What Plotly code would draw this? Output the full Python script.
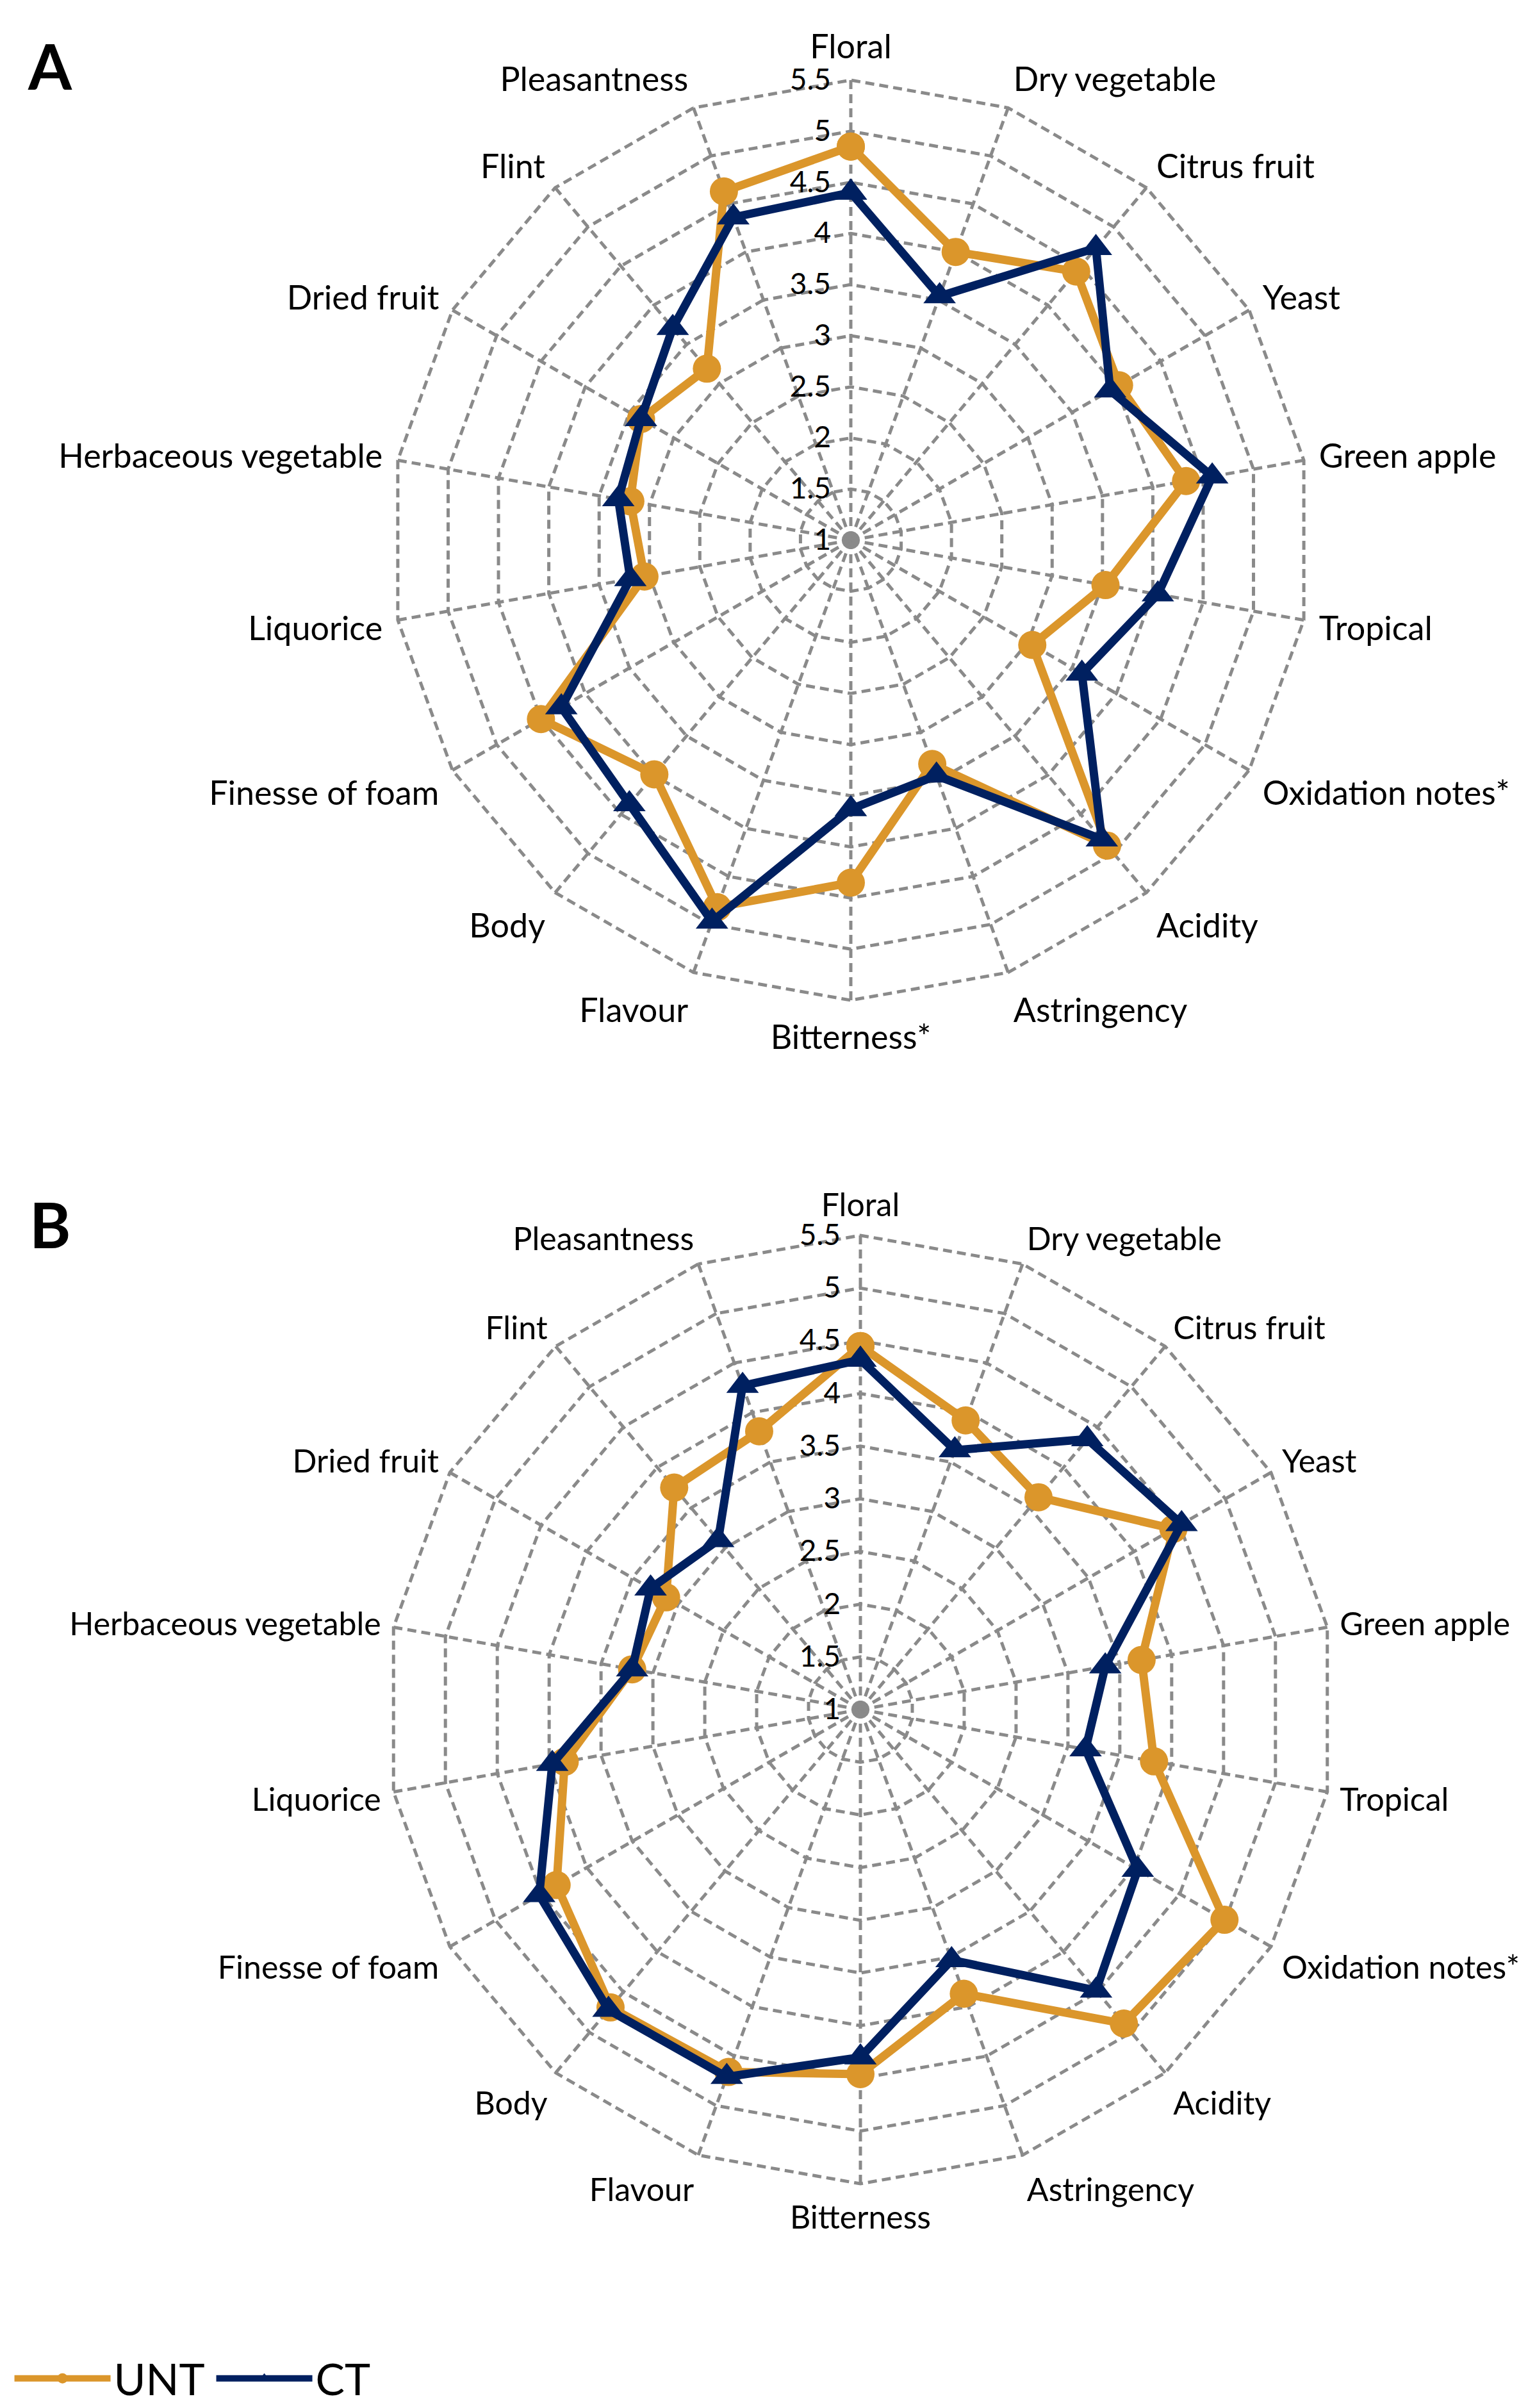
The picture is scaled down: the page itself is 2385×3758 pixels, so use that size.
import plotly.graph_objects as go

categories = ["Floral", "Dry vegetable", "Citrus fruit", "Yeast", "Green apple", "Tropical",
              "Oxidation notes*", "Acidity", "Astringency", "Bitterness*", "Flavour", "Body",
              "Finesse of foam", "Liquorice", "Herbaceous vegetable", "Dried fruit", "Flint",
              "Pleasantness"]
categories_b = ["Floral", "Dry vegetable", "Citrus fruit", "Yeast", "Green apple", "Tropical",
                "Oxidation notes*", "Acidity", "Astringency", "Bitterness", "Flavour", "Body",
                "Finesse of foam", "Liquorice", "Herbaceous vegetable", "Dried fruit", "Flint",
                "Pleasantness"]

unt_a = [4.85, 4.0, 4.43, 4.03, 4.33, 3.53, 3.05, 4.9, 3.33, 4.35, 4.82, 3.99, 4.5, 3.05, 3.19, 3.37, 3.19, 4.63]
ct_a = [4.4, 3.54, 4.73, 3.93, 4.59, 4.05, 3.61, 4.82, 3.45, 3.63, 4.97, 4.37, 4.27, 3.19, 3.31, 3.37, 3.71, 4.36]

unt_b = [4.45, 3.92, 3.63, 4.43, 3.71, 3.83, 4.99, 4.89, 3.87, 4.46, 4.66, 4.69, 4.33, 3.85, 3.2, 3.13, 3.75, 3.81]
ct_b = [4.32, 3.62, 4.35, 4.52, 3.36, 3.17, 4.04, 4.48, 3.53, 4.3, 4.71, 4.72, 4.52, 3.97, 3.2, 3.3, 3.1, 4.27]

radial_ticks = [1, 1.5, 2, 2.5, 3, 3.5, 4, 4.5, 5, 5.5]
radial_ticktext = ["1", "1.5", "2", "2.5", "3", "3.5", "4", "4.5", "5", "5.5"]
series_names = ["UNT", "CT"]
panel_letters = ["A", "B"]

ORANGE = "#DB962B"
NAVY = "#002060"
GRID = "#8a8a8a"
FONT = "Lato"

W, H = 2385, 3758
R_EXTRA = 0.02  # small headroom so the outermost (5.5) ring is drawn

fig = go.Figure()


def close(vals):
    return list(vals) + [vals[0]]


def add_panel(cats, unt, ct, sub, show_legend):
    fig.add_trace(go.Scatterpolar(
        r=close(unt), theta=close(cats), subplot=sub, name=series_names[0],
        mode="lines+markers", showlegend=show_legend,
        line=dict(color=ORANGE, width=13),
        marker=dict(symbol="circle", size=44, color=ORANGE),
    ))
    fig.add_trace(go.Scatterpolar(
        r=close(ct), theta=close(cats), subplot=sub, name=series_names[1],
        mode="lines+markers", showlegend=show_legend,
        line=dict(color=NAVY, width=13),
        marker=dict(symbol="triangle-up", size=44, color=NAVY),
    ))
    # center dot at radial origin
    fig.add_trace(go.Scatterpolar(
        r=[radial_ticks[0]], theta=[cats[0]], subplot=sub, mode="markers",
        showlegend=False, hoverinfo="skip",
        marker=dict(size=32, color=GRID),
    ))


add_panel(categories, unt_a, ct_a, "polar", True)
add_panel(categories_b, unt_b, ct_b, "polar2", False)


def polar_layout(cx, cy, R55, cats, ang_ticklen, ang_font):
    span = radial_ticks[-1] - radial_ticks[0]
    R = R55 * (span + R_EXTRA) / span
    dom_x = [(cx - R) / W, (cx + R) / W]
    dom_y = [1 - (cy + R) / H, 1 - (cy - R) / H]
    return dict(
        domain=dict(x=dom_x, y=dom_y),
        bgcolor="white",
        gridshape="linear",
        radialaxis=dict(
            range=[radial_ticks[0], radial_ticks[-1] + R_EXTRA],
            tickvals=radial_ticks,
            ticktext=[t + "\u00a0\u00a0" for t in radial_ticktext],
            angle=90, tickangle=90, side="counterclockwise",
            showline=False, ticks="",
            showgrid=True, gridcolor=GRID, gridwidth=5, griddash="14px,8px",
            tickfont=dict(family=FONT, size=46, color="black"),
        ),
        angularaxis=dict(
            categoryorder="array", categoryarray=cats,
            direction="clockwise", rotation=90,
            showline=False, ticks="outside", ticklen=ang_ticklen,
            tickcolor="rgba(0,0,0,0)",
            showgrid=True, gridcolor=GRID, gridwidth=5, griddash="14px,8px",
            tickfont=dict(family=FONT, size=ang_font, color="black"),
        ),
    )


fig.update_layout(
    width=W, height=H,
    autosize=False,
    margin=dict(l=0, r=0, t=0, b=0),
    paper_bgcolor="white",
    plot_bgcolor="white",
    polar=polar_layout(1320, 835, 718, categories, 10, 52),
    polar2=polar_layout(1335, 2660, 740, categories_b, 6, 50),
    showlegend=True,
    legend=dict(
        orientation="h", x=0.004, y=1 - 3704 / H, xanchor="left", yanchor="middle",
        font=dict(family=FONT, size=68, color="black"),
        itemwidth=150, entrywidth=150, entrywidthmode="pixels", tracegroupgap=0,
    ),
    annotations=[
        dict(text="<b>%s</b>" % panel_letters[0], x=70 / W, y=1 - 94 / H, xref="paper", yref="paper",
             showarrow=False, font=dict(family=FONT, size=98, color="black"),
             xanchor="center", yanchor="middle"),
        dict(text="<b>%s</b>" % panel_letters[1], x=70 / W, y=1 - 1902 / H, xref="paper", yref="paper",
             showarrow=False, font=dict(family=FONT, size=98, color="black"),
             xanchor="center", yanchor="middle"),
    ],
)

fig.write_html("out.html")
